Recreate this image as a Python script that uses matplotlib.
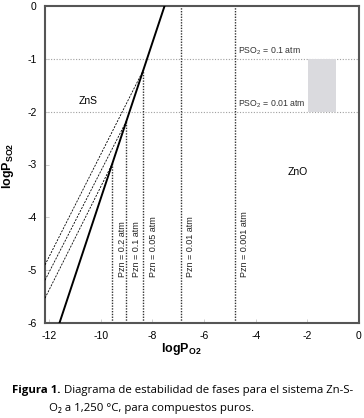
import matplotlib
matplotlib.use("Agg")
import matplotlib.pyplot as plt
from matplotlib.patches import Rectangle

solid_x = [-11.6, -7.53]          # ZnS / ZnO
solid_y = [-6.0, 0.0]
pzn_labels = ['0.2', '0.1', '0.05', '0.01', '0.001']
pzn_x = [-9.55, -9.01, -8.35, -6.91, -4.82]
pzn_ytop = [-2.98, -2.18, -1.21, 0.0, 0.0]
dash_yleft = [-5.53, -5.19, -4.90]   # lineas a trazos (0.2, 0.1, 0.05)
pso2_levels = [-1, -2]
pso2_labels = ['0.1', '0.01']
box_x = [-1.98, -0.89]
xmin, xmax = -12.16, 0
xticks = [-12, -10, -8, -6, -4, -2, 0]
yticks = [0, -1, -2, -3, -4, -5, -6]

plt.rcParams['font.family'] = ['Liberation Sans', 'DejaVu Sans']
plt.rcParams['mathtext.fontset'] = 'custom'
plt.rcParams['mathtext.rm'] = 'Liberation Sans'
plt.rcParams['mathtext.bf'] = 'Liberation Sans:bold'

fig = plt.figure(figsize=[3.64, 4.18], dpi=100)
ax = fig.add_axes([45/364, 1-323/418, 314/364, 317/418])

for y in pso2_levels:
    ax.axhline(y, color='#a0a0a0', lw=0.8, ls=(0, (1, 1.5)), zorder=1)

ax.add_patch(Rectangle((box_x[0], -2), box_x[1]-box_x[0], 1,
                       facecolor='#dadade', edgecolor='none', zorder=1))

ax.plot(solid_x, solid_y, 'k', lw=1.4, zorder=3)
for i in range(3):
    ax.plot([xmin, pzn_x[i]], [dash_yleft[i], pzn_ytop[i]], color='k',
            lw=0.6, ls=(0, (2.5, 1.5)), zorder=3)
for i in range(len(pzn_x)):
    ax.plot([pzn_x[i], pzn_x[i]], [-6, pzn_ytop[i]], color='#333333',
            lw=1.0, ls=(0, (1, 1)), zorder=2)
    ax.text(pzn_x[i]+0.22, -5.12, 'Pzn = ' + pzn_labels[i] + ' atm', rotation=90,
            ha='left', va='bottom', fontsize=6.5, color='#222222')

for y, lab in zip(pso2_levels, pso2_labels):
    ax.text(pzn_x[4]+0.12, y+0.04, r'PSO$_\mathregular{2}$ = ' + lab + ' atm',
            ha='left', va='bottom', fontsize=6.3, color='#333333')

ax.text(-10.5, -1.8, 'ZnS', fontsize=7.5, ha='center', va='center')
ax.text(-2.37, -3.14, 'ZnO', fontsize=7.5, ha='center', va='center')

ax.set_xlim(xmin, xmax)
ax.set_ylim(-6, 0)
ax.set_xticks(xticks)
ax.set_yticks(yticks)
ax.set_xticklabels(['-12', '-10', '-8', '-6', '-4', '-2', '0'])
ax.set_yticklabels(['0', '-1', '-2', '-3', '-4', '-5', '-6'])
ax.tick_params(direction='in', length=3, width=0.6, color='#c8c8c8',
               labelsize=7.5, pad=6)
for s in ax.spines.values():
    s.set_color('#555555')
    s.set_linewidth(1.5)

fig.text(181/364, 1-349/418, r'$\mathbf{logP}_\mathbf{O2}$', ha='center',
         va='center', fontsize=9)
fig.text(8/364, 1-166/418, r'$\mathbf{logP}_\mathbf{SO2}$', ha='center',
         va='center', fontsize=9, rotation=90)

# Leyenda de la figura
cap = ['Open Sans', 'DejaVu Sans']
t1 = fig.text(12/364, 1-391/418, 'Figura 1.', fontsize=8.2, fontweight='bold',
              family=cap, ha='left', va='center')
fig.canvas.draw()
bb = t1.get_window_extent()
fig.text((bb.x1+3)/364, 1-391/418, 'Diagrama de estabilidad de fases para el sistema Zn-S-',
         fontsize=8.2, family=cap, ha='left', va='center')
fig.text(49/364, 1-408/418, 'O\u2082 a 1,250 \u00b0C, para compuestos puros.',
         fontsize=8.2, family=cap, ha='left', va='center')

fig.savefig('out.png', dpi=100)
